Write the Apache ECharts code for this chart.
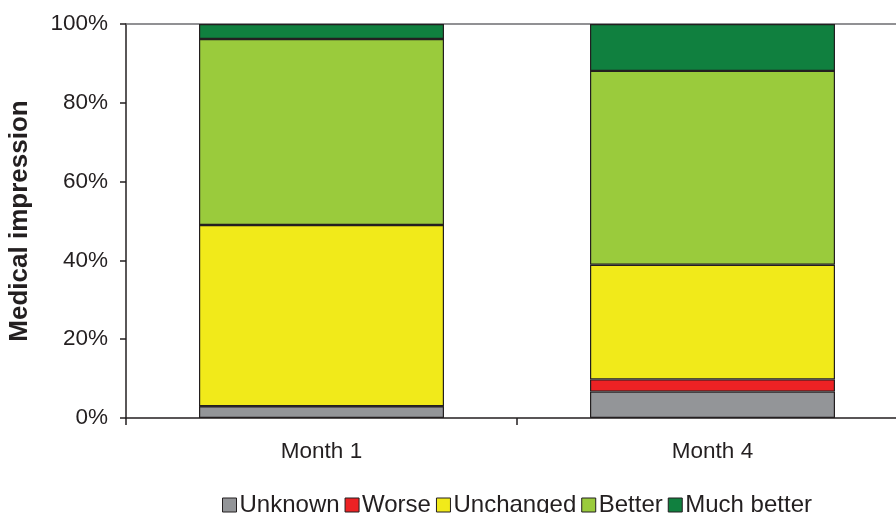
<!DOCTYPE html>
<html>
<head>
<meta charset="utf-8">
<script src="https://cdn.jsdelivr.net/npm/echarts@6/dist/echarts.min.js"></script>
<style>html,body{margin:0;padding:0;background:#fff;}#c{width:896px;height:513px;}</style>
</head>
<body>
<div id="c"></div>
<script>
const categories = ['Month 1', 'Month 4'];
const seriesNames = ['Unknown', 'Worse', 'Unchanged', 'Better', 'Much better'];
const unknown = [3.0, 6.7];
const worse = [0, 3.1];
const unchanged = [46.0, 29.1];
const better = [47.2, 49.2];
const muchBetter = [3.8, 11.9];
const yTicks = [0, 20, 40, 60, 80, 100];

const colors = ['#939598', '#ed2224', '#f1ea1a', '#9acb3c', '#10803f'];
const values = [unknown, worse, unchanged, better, muchBetter];
const font = 'Liberation Sans, Arial, sans-serif';

const chart = echarts.init(document.getElementById('c'));
chart.setOption({
  animation: false,
  grid: { left: 126, width: 782, top: 24, height: 394, containLabel: false, outerBoundsMode: 'none' },
  legend: {
    top: 488, left: 217,
    itemWidth: 14, itemHeight: 14, itemGap: 5,
    icon: 'rect',
    textStyle: { fontFamily: font, fontSize: 24, color: '#231f20', padding: [0, 0, 0, -2] },
    data: seriesNames.map((n, i) => ({ name: n, itemStyle: { color: colors[i], borderColor: '#231f20', borderWidth: 1 } }))
  },
  xAxis: [{
    type: 'category', data: categories,
    axisLine: { lineStyle: { color: '#231f20', width: 1.5 } },
    axisTick: { show: true, interval: 0, length: 7, lineStyle: { color: '#231f20', width: 1.5 } },
    axisLabel: { fontFamily: font, fontSize: 22.5, color: '#231f20', margin: 22, interval: 0 }
  }, {
    type: 'category', data: categories, position: 'top',
    axisLine: { show: true, lineStyle: { color: '#6d6e71', width: 1.5 } },
    axisTick: { show: false }, axisLabel: { show: false }
  }],
  yAxis: {
    type: 'value', min: 0, max: 100, interval: 20,
    name: 'Medical impression', nameLocation: 'middle', nameGap: 93,
    nameTextStyle: { fontFamily: font, fontSize: 26, fontWeight: 'bold', color: '#231f20' },
    axisLine: { show: true, lineStyle: { color: '#231f20', width: 1.5 } },
    axisTick: { show: true, length: 6, lineStyle: { color: '#231f20', width: 1.5 } },
    splitLine: { show: false },
    axisLabel: { fontFamily: font, fontSize: 22.5, color: '#231f20', margin: 18,
      formatter: v => yTicks.includes(v) ? v + '%' : '' }
  },
  series: seriesNames.map((n, i) => ({
    name: n, type: 'bar', stack: 'total', barWidth: 245,
    data: values[i],
    itemStyle: { color: colors[i], borderColor: '#231f20', borderWidth: 1.2 }
  }))
});
</script>
</body>
</html>
